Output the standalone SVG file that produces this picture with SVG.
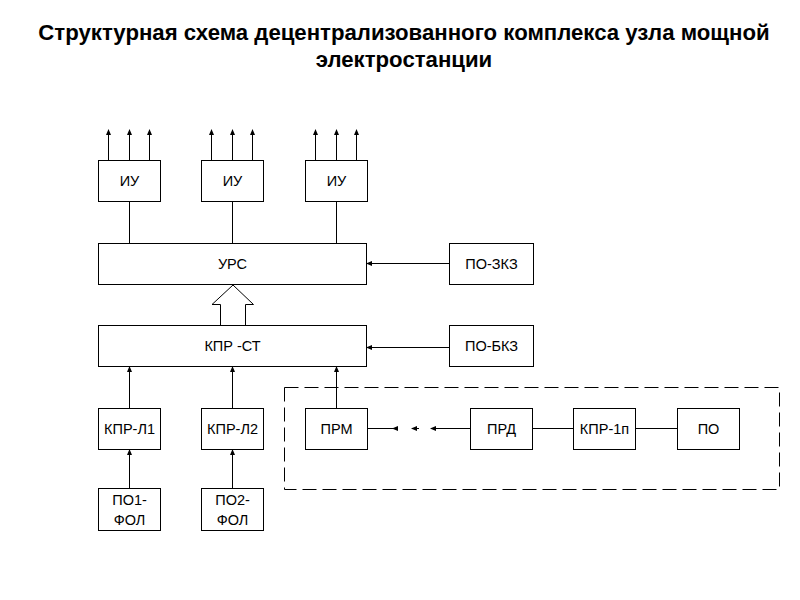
<svg xmlns="http://www.w3.org/2000/svg" width="800" height="600" viewBox="0 0 800 600">
<defs>
<marker id="ah" markerWidth="6" markerHeight="6" refX="5" refY="3" orient="auto" markerUnits="userSpaceOnUse">
<path d="M0,0.5 L6,3 L0,5.5 Z" fill="#000"/>
</marker>
<style>
.b{fill:#fff;stroke:#000;stroke-width:1}
.t{font-family:"Liberation Sans",Arial,sans-serif;font-size:14.5px;text-anchor:middle;fill:#000}
.ttl{font-family:"Liberation Sans",Arial,sans-serif;font-size:22.2px;font-weight:bold;text-anchor:middle;fill:#000}
.c{stroke:#000;stroke-width:1;fill:none}
.a{marker-end:url(#ah)}
</style>
</defs>
<rect width="800" height="600" fill="#fff"/>
<text class="ttl" x="404" y="40">Структурная схема децентрализованного комплекса узла мощной</text>
<text class="ttl" x="404" y="67">электростанции</text>

<g id="connectors">
<line class="c a" x1="108.5" y1="160" x2="108.5" y2="130"/>
<line class="c a" x1="129.5" y1="160" x2="129.5" y2="130"/>
<line class="c a" x1="149.5" y1="160" x2="149.5" y2="130"/>
<line class="c a" x1="211.5" y1="160" x2="211.5" y2="130"/>
<line class="c a" x1="232.5" y1="160" x2="232.5" y2="130"/>
<line class="c a" x1="252.5" y1="160" x2="252.5" y2="130"/>
<line class="c a" x1="315.5" y1="160" x2="315.5" y2="130"/>
<line class="c a" x1="336.5" y1="160" x2="336.5" y2="130"/>
<line class="c a" x1="356.5" y1="160" x2="356.5" y2="130"/>
<line class="c" x1="129.5" y1="201" x2="129.5" y2="243"/>
<line class="c" x1="232.5" y1="201" x2="232.5" y2="243"/>
<line class="c" x1="336.5" y1="201" x2="336.5" y2="243"/>
<line class="c a" x1="449" y1="263.5" x2="367" y2="263.5"/>
<line class="c a" x1="449" y1="347.5" x2="367" y2="347.5"/>
<path class="c" d="M220.5,325 L220.5,304.5 L212,304.5 L233,285 L253.5,304.5 L245.5,304.5 L245.5,325" fill="#fff"/>
<line class="c a" x1="129.5" y1="408" x2="129.5" y2="367"/>
<line class="c a" x1="232.5" y1="408" x2="232.5" y2="367"/>
<line class="c a" x1="336.5" y1="408" x2="336.5" y2="367"/>
<line class="c a" x1="129.5" y1="488" x2="129.5" y2="450"/>
<line class="c a" x1="232.5" y1="488" x2="232.5" y2="450"/>
<line class="c" x1="368" y1="428.5" x2="393" y2="428.5"/>
<path d="M392,428.5 L398,426 L398,431 Z" fill="#000"/>
<path d="M411,428.5 L417,426 L417,431 Z" fill="#000"/>
<line class="c" x1="416" y1="428.5" x2="419" y2="428.5"/>
<line class="c a" x1="470" y1="428.5" x2="431" y2="428.5"/>
<line class="c" x1="533" y1="428.5" x2="573" y2="428.5"/>
<line class="c" x1="636" y1="428.5" x2="677" y2="428.5"/>
<rect x="284.5" y="387.5" width="495" height="102" fill="none" stroke="#000" stroke-width="1" stroke-dasharray="14,6"/>
</g>

<g id="iu1"><rect class="b" x="98.5" y="160.5" width="62" height="41"/><text class="t" x="129.5" y="186">ИУ</text></g>
<g id="iu2"><rect class="b" x="201.5" y="160.5" width="62" height="41"/><text class="t" x="232.5" y="186">ИУ</text></g>
<g id="iu3"><rect class="b" x="305.5" y="160.5" width="62" height="41"/><text class="t" x="336.5" y="186">ИУ</text></g>
<g id="urs"><rect class="b" x="98.5" y="243.5" width="268" height="41"/><text class="t" x="232.5" y="269">УРС</text></g>
<g id="po-zkz"><rect class="b" x="449.5" y="243.5" width="84" height="41"/><text class="t" x="491.5" y="269">ПО-ЗКЗ</text></g>
<g id="kpr-st"><rect class="b" x="98.5" y="325.5" width="268" height="41"/><text class="t" x="232.5" y="351">КПР -СТ</text></g>
<g id="po-bkz"><rect class="b" x="449.5" y="325.5" width="84" height="41"/><text class="t" x="491.5" y="351">ПО-БКЗ</text></g>
<g id="kpr-l1"><rect class="b" x="98.5" y="408.5" width="62" height="41"/><text class="t" x="129.5" y="434">КПР-Л1</text></g>
<g id="kpr-l2"><rect class="b" x="201.5" y="408.5" width="62" height="41"/><text class="t" x="232.5" y="434">КПР-Л2</text></g>
<g id="prm"><rect class="b" x="305.5" y="408.5" width="62" height="41"/><text class="t" x="336.5" y="434">ПРМ</text></g>
<g id="prd"><rect class="b" x="470.5" y="408.5" width="62" height="41"/><text class="t" x="501.5" y="434">ПРД</text></g>
<g id="kpr-1p"><rect class="b" x="573.5" y="408.5" width="62" height="41"/><text class="t" x="604.5" y="434">КПР-1п</text></g>
<g id="po"><rect class="b" x="677.5" y="408.5" width="62" height="41"/><text class="t" x="708.5" y="434">ПО</text></g>
<g id="po1-fol"><rect class="b" x="98.5" y="488.5" width="62" height="42"/><text class="t" x="129.5" y="505">ПО1-</text><text class="t" x="129.5" y="525">ФОЛ</text></g>
<g id="po2-fol"><rect class="b" x="201.5" y="488.5" width="62" height="42"/><text class="t" x="232.5" y="505">ПО2-</text><text class="t" x="232.5" y="525">ФОЛ</text></g>
</svg>
